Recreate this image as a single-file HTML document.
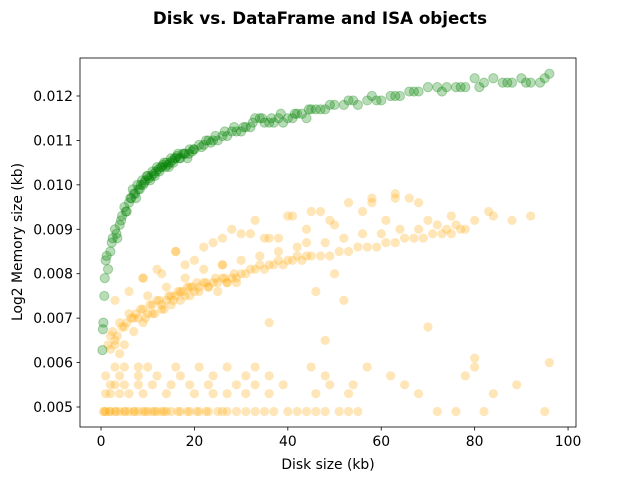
<!DOCTYPE html>
<html><head><meta charset="utf-8"><style>
body{margin:0;background:#fff;font-family:"Liberation Sans","DejaVu Sans",sans-serif}
svg text{font-family:"DejaVu Sans","Liberation Sans",sans-serif;fill:#000}
</style></head><body>
<svg id="chart" width="640" height="480" xmlns="http://www.w3.org/2000/svg">
<rect width="640" height="480" fill="#fff"/>
<text x="320" y="24" text-anchor="middle" font-size="16.7" font-weight="bold">Disk vs. DataFrame and ISA objects</text>
<g id="marks"></g>
<g id="axes"></g>
<text x="328" y="469" text-anchor="middle" font-size="13.9">Disk size (kb)</text>
<text transform="translate(22,242) rotate(-90)" text-anchor="middle" font-size="13.9">Log2 Memory size (kb)</text>
</svg>
<script>
const greenX=[0.3,0.4,0.5,0.7,0.8,1,1.2,1.5,2,2.3,2.5,3,3.3,3.5,4,4.3,4.5,5,5.3,5.5,6,6.3,6.5,7,7.3,7.5,8,8.3,8.5,9,9.3,9.5,10,10.3,10.5,11,11.3,11.5,12,12.3,12.5,13,13.3,13.5,14,14.3,14.5,15,15.3,15.5,16,16.3,16.5,17,17.5,18,18.5,19,19.5,20,21,21.5,22,23,23.5,24,25,26,27,28,29,30,31,32,33,34,35,36,37,38,39,40,41,42,43,44,45,46,47,48,50,52,54,55,57,59,60,62,64,66,68,70,72,74,76,78,80,82,84,86,88,90,92,94,95,96,
6.8,7.8,8.8,9.8,10.8,11.8,12.8,13.8,14.8,15.8,16.8,17.8,18.8,19.8,22.5,24.5,26.5,28.5,30.5,32.5,34.5,36.5,38.5,41.5,44.5,49,53,58,63,67,73,77,81,87,91];
const greenY=[0.00628,0.00675,0.0069,0.0075,0.0079,0.0083,0.0084,0.0081,0.0085,0.0087,0.0088,0.009,0.0089,0.0088,0.0091,0.0092,0.0093,0.0095,0.0094,0.0094,0.0096,0.0097,0.0097,0.0098,0.0098,0.0097,0.0099,0.0099,0.01,0.01,0.01005,0.0101,0.0102,0.01015,0.0101,0.0103,0.01025,0.0102,0.0104,0.01035,0.0103,0.0104,0.01045,0.0105,0.0105,0.01045,0.0104,0.0106,0.01055,0.0105,0.0106,0.01065,0.0107,0.0106,0.0107,0.0107,0.0106,0.0108,0.01075,0.0108,0.0109,0.01085,0.0109,0.011,0.01095,0.011,0.011,0.0111,0.0111,0.0112,0.0112,0.0112,0.0113,0.0113,0.0115,0.0115,0.0114,0.0114,0.0114,0.0115,0.0114,0.0115,0.0115,0.0116,0.0116,0.0115,0.0117,0.0117,0.0117,0.0117,0.0118,0.0118,0.0119,0.0118,0.0119,0.0119,0.0119,0.012,0.012,0.0121,0.0121,0.0122,0.0122,0.0122,0.0122,0.0122,0.0124,0.0123,0.0124,0.0123,0.0123,0.0124,0.0123,0.0123,0.0124,0.0125,
0.0099,0.01,0.0101,0.0102,0.0102,0.0103,0.0104,0.0104,0.0105,0.0106,0.0106,0.0107,0.0107,0.0108,0.011,0.0111,0.0112,0.0113,0.0113,0.0114,0.0115,0.0115,0.0116,0.0116,0.0117,0.0118,0.0119,0.012,0.012,0.0121,0.0121,0.0122,0.0122,0.0123,0.0123];
const orangeX=[0.5,1,2,3,4,5,6,7,8,9,10,11,12,13,14,15,17,19,21,23,25,27,29,33,37,42,46,51,55,72,76,82,95,
1,2,4,6,9,14,20,24,27,31,36,46,53,68,84,
2,3,5,8,11,15,19,23,29,33,39,49,54,65,89,
1,4,8,12,17,24,31,36,48,62,78,
3,5,8,10,16,21,27,33,45,57,80,
2,3,4,5,6,7,8,9,10,11,12,13,14,15,16,17,18,19,20,21,22,23,24,25,26,27,28,29,30,
4,5,7,9,11,13,15,17,19,21,23,25,27,29,31,33,35,37,39,41,43,45,47,49,51,53,55,57,59,61,63,65,67,69,71,73,75,77,
10,14,18,22,26,30,34,38,42,44,48,52,56,60,64,68,72,76,80,84,88,92,
28,33,38,41,45,49,53,56,58,61,63,66,68,75,78,83,
9,12,16,20,24,26,30,36,46,50,70,96,2,3,36,48,52,80,
1.5,2.5,3.5,4.5,5.5,6.5,7.5,8.5,9.5,10.5,11.5,12.5,13.5,14.5,15.5,16.5,17.5,18.5,19.5,20.5,22.5,24.5,26.5,28.5,32,34,36,38,40,42,44,
3,6,9,13,16,18,22,26,32,35,40,44,47,50,58,63,70,74,
0.8,1.8,3.2,5.2,7.2,9.5,11.5,13.5,16.5,18.5,20.5,22.5,26,31,35,40,44,48,53];
const orangeY=[0.0049,0.0049,0.0049,0.0049,0.0049,0.0049,0.0049,0.0049,0.0049,0.0049,0.0049,0.0049,0.0049,0.0049,0.0049,0.0049,0.0049,0.0049,0.0049,0.0049,0.0049,0.0049,0.0049,0.0049,0.0049,0.0049,0.0049,0.0049,0.0049,0.0049,0.0049,0.0049,0.0049,
0.0053,0.0053,0.0053,0.0053,0.0053,0.0053,0.0053,0.0053,0.0053,0.0053,0.0053,0.0053,0.0053,0.0053,0.0053,
0.0055,0.0055,0.0055,0.0055,0.0055,0.0055,0.0055,0.0055,0.0055,0.0055,0.0055,0.0055,0.0055,0.0055,0.0055,
0.0057,0.0057,0.0057,0.0057,0.0057,0.0057,0.0057,0.0057,0.0057,0.0057,0.0057,
0.0059,0.0059,0.0059,0.0059,0.0059,0.0059,0.0059,0.0059,0.0059,0.0059,0.0059,
0.0066,0.0065,0.0069,0.0068,0.0071,0.007,0.007,0.0072,0.0071,0.0073,0.0074,0.0073,0.0074,0.0075,0.0075,0.0076,0.0075,0.0077,0.0076,0.0077,0.0078,0.0077,0.0078,0.0076,0.0079,0.0078,0.0079,0.0078,0.008,
0.0062,0.0064,0.0067,0.0069,0.0071,0.0072,0.0073,0.0074,0.0075,0.0076,0.0077,0.0078,0.0078,0.0079,0.008,0.0081,0.0081,0.0082,0.0082,0.0083,0.0083,0.0084,0.0084,0.0084,0.0085,0.0085,0.0086,0.0086,0.0086,0.0087,0.0087,0.0088,0.0088,0.0088,0.0089,0.0089,0.0089,0.009,
0.0075,0.0077,0.0079,0.0081,0.0082,0.0083,0.0084,0.0085,0.0086,0.0087,0.0087,0.0088,0.0089,0.0089,0.009,0.009,0.0091,0.0091,0.0092,0.0093,0.0092,0.0093,
0.009,0.0092,0.0088,0.0093,0.0094,0.0092,0.0096,0.0094,0.0097,0.0092,0.0098,0.0097,0.0096,0.0093,0.009,0.0094,
0.0079,0.0081,0.0085,0.0083,0.0087,0.0082,0.0089,0.0088,0.0076,0.0080,0.0068,0.0060,0.0063,0.0064,0.0069,0.0065,0.0074,0.0061,
0.0064,0.0067,0.0066,0.0068,0.0069,0.007,0.0071,0.0072,0.007,0.0073,0.0071,0.0074,0.0072,0.0075,0.0074,0.0076,0.0076,0.0077,0.0077,0.0078,0.0078,0.0079,0.0079,0.0080,0.0081,0.0082,0.0082,0.0083,0.0083,0.0084,0.0084,
0.0074,0.0076,0.0079,0.0080,0.0085,0.0082,0.0086,0.0088,0.0089,0.0088,0.0093,0.0090,0.0094,0.0091,0.0096,0.0097,0.0092,0.0090,
0.0049,0.0049,0.0049,0.0049,0.0049,0.0049,0.0049,0.0049,0.0049,0.0049,0.0049,0.0049,0.0049,0.0049,0.0049,0.0049,0.0049,0.0049,0.0049];
const xTicks=[0,20,40,60,80,100];
const yTicks=[0.005,0.006,0.007,0.008,0.009,0.010,0.011,0.012];
const L=80,R=576,T=58,B=427,xmin=-4.5,xmax=101.7,ymin=0.00455,ymax=0.012855;
const sx=v=>L+(v-xmin)/(xmax-xmin)*(R-L);
const sy=v=>B-(v-ymin)/(ymax-ymin)*(B-T);
const NS="http://www.w3.org/2000/svg";
const marks=document.getElementById('marks'),axes=document.getElementById('axes');
function dot(x,y,c,e,name){const el=document.createElementNS(NS,'circle');
el.setAttribute('cx',sx(x));el.setAttribute('cy',sy(y));el.setAttribute('r',4.6);
el.setAttribute('fill',c);el.setAttribute('fill-opacity',0.28);
el.setAttribute('stroke',e);el.setAttribute('stroke-opacity',e==='none'?0:0.3);


marks.appendChild(el);}
for(let i=0;i<orangeX.length;i++)dot(orangeX[i],orangeY[i],'#ffa500','none','orange-point');
for(let i=0;i<greenX.length;i++)dot(greenX[i],greenY[i],'#008000','#008000','green-point');
let h='<rect x="80" y="58" width="496" height="369" fill="none" stroke="#000" stroke-width="0.8"/>';
xTicks.forEach(t=>{const x=sx(t);h+=`<line x1="${x}" y1="427" x2="${x}" y2="430.5" stroke="#000" stroke-width="0.8"/><text x="${x}" y="446" text-anchor="middle" font-size="13.9">${t}</text>`;});
yTicks.forEach(t=>{const y=sy(t);h+=`<line x1="76.5" y1="${y}" x2="80" y2="${y}" stroke="#000" stroke-width="0.8"/><text x="73" y="${y+5}" text-anchor="end" font-size="13.9">${t.toFixed(3)}</text>`;});
axes.innerHTML=h;
</script>
</body></html>
